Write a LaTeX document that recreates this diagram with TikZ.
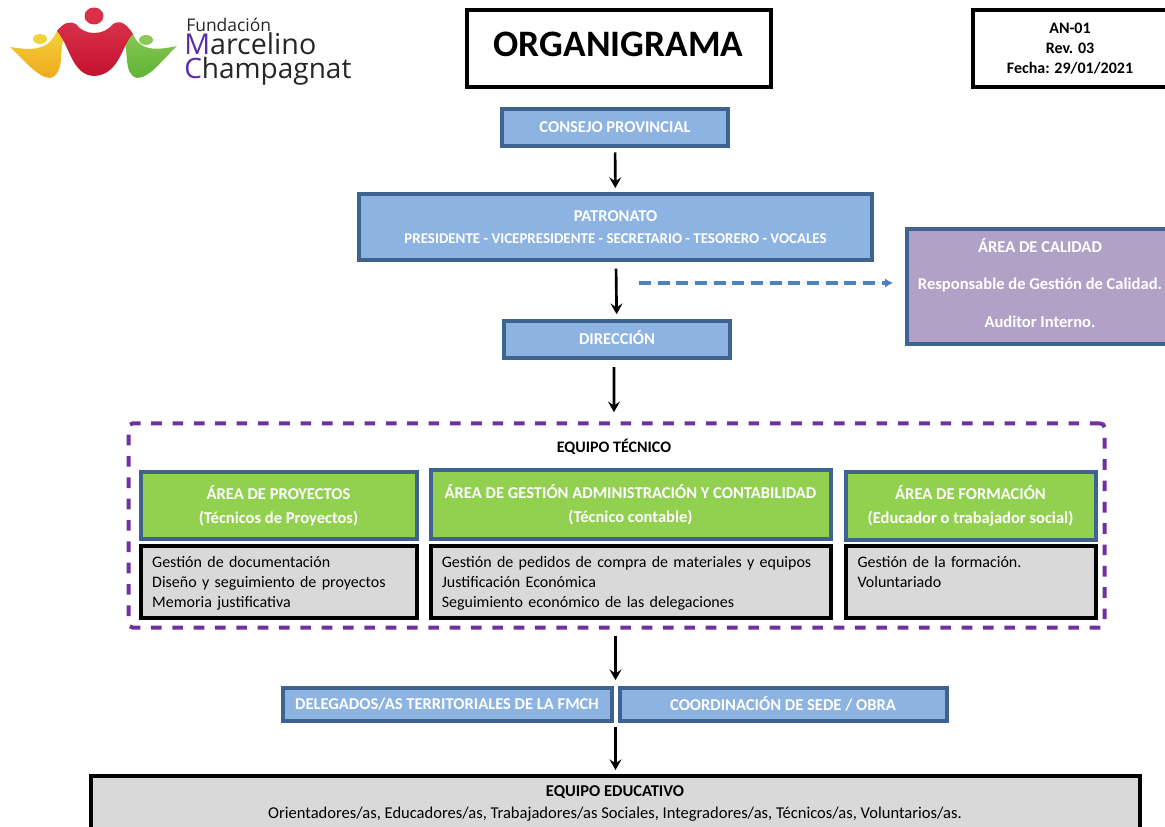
\documentclass[tikz,border=0pt]{standalone}
\usepackage{fontspec}
\setmainfont{Carlito}
\newfontfamily\logofont{Open Sans}
\usetikzlibrary{arrows.meta,calc}
\definecolor{boxblue}{HTML}{8DB3E2}
\definecolor{edgeblue}{HTML}{3F6391}
\definecolor{boxgreen}{HTML}{92D050}
\definecolor{boxlilac}{HTML}{B2A1C7}
\definecolor{boxgray}{HTML}{D9D9D9}
\definecolor{framepurple}{HTML}{7030A0}
\definecolor{dashblue}{HTML}{4F81BD}
\definecolor{logopurple}{HTML}{5B2DA8}
\definecolor{logored}{HTML}{D9304A}
\definecolor{logoreddark}{HTML}{C41230}
\definecolor{logoyellow}{HTML}{F2D23C}
\definecolor{logoorange}{HTML}{F0A91E}
\definecolor{logogreen}{HTML}{8CC856}
\definecolor{logogreendark}{HTML}{5FB336}
\tikzset{
  boxsize/.style 2 args={minimum width=#1*0.75pt,minimum height=#2*0.75pt},
  normaltext/.style={font=\fontsize{12}{15}\selectfont},
  bluebox/.style={draw=edgeblue,line width=3pt,fill=boxblue,text=white,align=center,inner sep=0pt,font=\fontsize{12.4}{15}\selectfont\bfseries},
  greenbox/.style={bluebox,fill=boxgreen},
  graybox/.style={draw=black,line width=3pt,fill=boxgray,align=left,inner sep=0pt,normaltext},
  blackbox/.style={draw=black,line width=3pt,fill=white,align=center,inner sep=0pt},
  flowarrow/.style={-{Stealth[length=8pt,width=9pt,inset=3pt]},line width=2pt,black},
}
\begin{document}
\begin{tikzpicture}[x=0.75pt,y=0.75pt,yscale=-1]
  \useasboundingbox (0,0) rectangle (1165,827);

  %Logo: figures
  \path [top color=logoyellow,bottom color=logoorange] (10,47) .. controls (30,50) and (48,52) .. (57,31) .. controls (60,29) and (64,30) .. (65,36) .. controls (58,48) and (66,74) .. (50,78) .. controls (38,78) and (22,58) .. (10,47) -- cycle ;
  \path [top color=logogreen,bottom color=logogreendark] (177,46) .. controls (158,50) and (140,52) .. (133,34) .. controls (128,30) and (124,30) .. (122,33) .. controls (130,48) and (122,74) .. (137,78) .. controls (150,78) and (164,58) .. (177,46) -- cycle ;
  \path [top color=logored,bottom color=logoreddark] (57,31) .. controls (64,22) and (70,21) .. (76,24) .. controls (84,36) and (104,36) .. (113,24) .. controls (120,20) and (126,23) .. (133,34) .. controls (122,44) and (120,74) .. (95,76) .. controls (72,76) and (70,46) .. (57,31) -- cycle ;
  \fill [logored] (94,16) ellipse [x radius=9.5,y radius=8.5];
  \fill [logoyellow] (40,39) ellipse [x radius=7,y radius=5];
  \fill [logogreen] (146,40) ellipse [x radius=7,y radius=5];

  %Logo: name
  \node [anchor=base west,inner sep=0pt,text=black!85] (logoa) at (186,32) {\logofont\fontsize{13.1}{15}\selectfont Fundación};
  \node [anchor=base west,inner sep=0pt,text=black!85] (logob) at (184,55) {\logofont\fontsize{21.5}{15}\selectfont\textcolor{logopurple}{M}arcelino};
  \node [anchor=base west,inner sep=0pt,text=black!85] (logoc) at (184,79) {\logofont\fontsize{21}{15}\selectfont\textcolor{logopurple}{C}hampagnat};

  %Header boxes
  \node [blackbox,boxsize={304}{77},font=\fontsize{28}{32}\selectfont\bfseries] (titulo) at (618.5,48.5) {ORGANIGRAMA\rule[-6pt]{0pt}{0pt}};
  \node [blackbox,boxsize={194}{77},font=\fontsize{12}{15}\selectfont\bfseries] (revision) at (1070,48.5) {AN-01\\ Rev. 03\\ Fecha: 29/01/2021};

  %Direction boxes
  \node [bluebox,boxsize={226}{37}] (consejo) at (615,128) {CONSEJO PROVINCIAL\rule[-1.5pt]{0pt}{0pt}};
  \node [bluebox,boxsize={513}{66}] (patronato) at (615.5,227) {PATRONATO\\[2pt] {\fontsize{11.2}{12}\selectfont PRESIDENTE - VICEPRESIDENTE - SECRETARIO - TESORERO - VOCALES}};
  \node [bluebox,boxsize={226}{37}] (direccion) at (617,340) {DIRECCIÓN\rule[-3pt]{0pt}{0pt}};
  \node [bluebox,fill=boxlilac,boxsize={266}{115}] (calidad) at (1040,287) {ÁREA DE CALIDAD\\[13pt] Responsable de Gestión de Calidad.\\[13pt] Auditor Interno.\rule[-6pt]{0pt}{0pt}};

  %Equipo tecnico
  \node [draw=framepurple,line width=3pt,dash pattern=on 8pt off 8pt,rounded corners=3pt,boxsize={976}{204},inner sep=0pt] (tecnico) at (616.5,525.5) {};
  \node [inner sep=0pt,normaltext,font=\fontsize{12}{15}\selectfont\bfseries] (tecnicotitulo) at (614,447) {EQUIPO TÉCNICO};

  \node [greenbox,boxsize={276}{66}] (proyectos) at (278.5,505.5) {ÁREA DE PROYECTOS\\[3pt] (Técnicos de Proyectos)\rule[-1.5pt]{0pt}{0pt}};
  \node [greenbox,boxsize={400}{68}] (gestion) at (630.5,504.5) {ÁREA DE GESTIÓN ADMINISTRACIÓN Y CONTABILIDAD\\[3pt] (Técnico contable)\rule[-1.5pt]{0pt}{0pt}};
  \node [greenbox,boxsize={250}{67}] (formacion) at (970.5,506) {ÁREA DE FORMACIÓN\\[3pt] (Educador o trabajador social)\rule[-1.5pt]{0pt}{0pt}};

  \node [graybox,text width=189.5pt,boxsize={276}{72}] (proyectostareas) at (278.5,581.5) {Gestión de documentación\\ Diseño y seguimiento de proyectos\\ \smash{Memoria justificativa}};
  \node [graybox,text width=283pt,boxsize={400}{72}] (gestiontareas) at (630.5,581.5) {Gestión de pedidos de compra de materiales y equipos\\ Justificación Económica\\ \smash{Seguimiento económico de las delegaciones}};
  \node [graybox,text width=169.5pt,boxsize={250}{72}] (formaciontareas) at (970.5,581.5) {Gestión de la formación.\\ Voluntariado\\ \mbox{}};

  %Lower boxes
  \node [bluebox,boxsize={329}{33}] (delegados) at (447,704) {DELEGADOS/AS TERRITORIALES DE LA FMCH};
  \node [bluebox,boxsize={327}{33}] (coordinacion) at (783,704) {COORDINACIÓN DE SEDE / OBRA};
  \coordinate (entrecajas) at ($(delegados.east)!0.5!(coordinacion.west)$);
  \node [graybox,align=center,boxsize={1049}{90},anchor=north,font=\fontsize{12.4}{15}\selectfont] (educativo) at (615,774) {\rule{0pt}{8pt}\textbf{EQUIPO EDUCATIVO}\\[1.5pt] Orientadores/as, Educadores/as, Trabajadores/as Sociales, Integradores/as, Técnicos/as, Voluntarios/as.\\[14pt] \mbox{}};

  %Arrows
  \draw [flowarrow,shorten <=3pt,shorten >=3pt] (consejo) -- (patronato);
  \draw [flowarrow,shorten <=5pt,shorten >=4pt] (patronato) -- (direccion);
  \draw [flowarrow,shorten <=5pt,shorten >=7pt] ([xshift=-2.25pt]direccion.south) -- ([xshift=-1.9pt]tecnico.north);
  \draw [flowarrow,shorten <=5pt,shorten >=4pt] (entrecajas |- tecnico.south) -- (entrecajas |- delegados.north);
  \draw [flowarrow,shorten <=3pt,shorten >=3pt] (entrecajas |- delegados.south) -- (entrecajas |- educativo.north);

  %Dashed arrow
  \coordinate (calidaddesde) at (639,283);
  \draw [-{Latex[length=6pt,width=7pt]},draw=dashblue,fill=dashblue,line width=2.5pt,dash pattern=on 9pt off 5pt,shorten >=9pt] (calidaddesde) -- (calidaddesde -| calidad.west);
\end{tikzpicture}
\end{document}
